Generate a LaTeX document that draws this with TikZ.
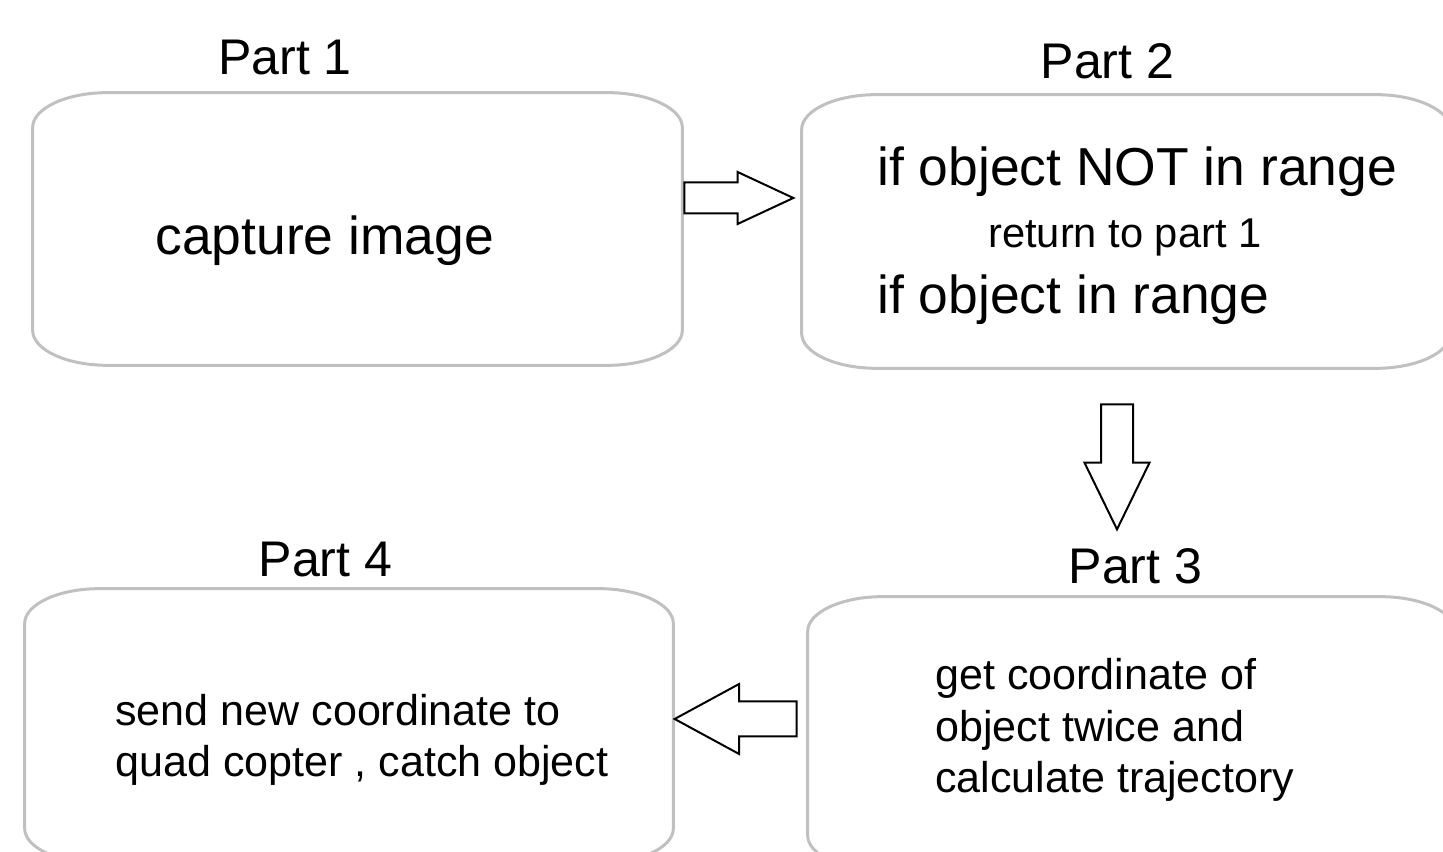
\documentclass[tikz,border=0pt]{standalone}
\usepackage{fontspec}
\setmainfont{Liberation Sans}
\usepackage{tikz}
\usetikzlibrary{calc}
\usetikzlibrary{shapes.arrows}
\definecolor{panelgray}{RGB}{192,192,192}
\tikzset{
panel/.style = { rectangle, draw = none, inner sep = 0pt },
panel line/.style = { draw = panelgray, line width = 0.06cm },
part label/.style = { anchor = base, inner sep = 0pt, font = \fontsize{28.5}{34}\selectfont },
big text/.style = { anchor = base west, inner sep = 0pt, font = \fontsize{30.4}{36}\selectfont },
small text/.style = { anchor = base west, inner sep = 0pt, align = left, font = \fontsize{24.5}{29.5}\selectfont },
block arrow/.style = { single arrow, draw = black, fill = white, line width = 0.04cm, inner xsep = 0pt, anchor = tail },
}
% outline of a panel node, wide flat corners
\newcommand{\panelframe}[1]{%
    \path[panel line] ($(#1.north west)+(1.5,0)$) -- ($(#1.north east)+(-1.5,0)$)
        arc[start angle = 90, end angle = 0, x radius = 1.5, y radius = 0.7]
        -- ($(#1.south east)+(0,0.7)$)
        arc[start angle = 0, end angle = -90, x radius = 1.5, y radius = 0.7]
        -- ($(#1.south west)+(1.5,0)$)
        arc[start angle = 270, end angle = 180, x radius = 1.5, y radius = 0.7]
        -- ($(#1.north west)+(0,-0.7)$)
        arc[start angle = 180, end angle = 90, x radius = 1.5, y radius = 0.7] -- cycle;%
}

\begin{document}
\begin{tikzpicture}
    \useasboundingbox (0, 0) rectangle (28.86, 17.04);
    \clip (0, 0) rectangle (28.86, 17.04);
    \node[panel, minimum width = 12.98cm, minimum height = 5.44cm] (part1) at (7.15, 12.46) {};
    \node[panel, minimum width = 12.96cm, minimum height = 5.46cm] (part2) at (22.52, 12.41) {};
    \node[panel, minimum width = 12.94cm, minimum height = 5.46cm] (part3) at (22.63, 2.37) {};
    \node[panel, minimum width = 12.96cm, minimum height = 5.48cm] (part4) at (6.98, 2.52) {};
    \panelframe{part1}
    \panelframe{part2}
    \panelframe{part3}
    \panelframe{part4}
    \node[part label] (title1) at (5.70, 15.54) {Part 1};
    \node[part label] (title2) at (22.15, 15.46) {Part 2};
    \node[part label] (title3) at (22.71, 5.36) {Part 3};
    \node[part label] (title4) at (6.51, 5.50) {Part 4};
    \node[big text] (capture) at (3.10, 11.94) {capture image};
    \node[big text] (notinrange) at (17.54, 13.32) {if object NOT in range};
    \node[big text, font = \fontsize{23.7}{28}\selectfont] (goback) at (19.76, 12.08) {return to part 1};
    \node[big text] (inrange) at (17.54, 10.76) {if object in range};
    \node[small text] (trajectory) at (18.70, 1.18) {get coordinate of\\object twice and\\calculate trajectory};
    \node[small text] (catch) at (2.30, 1.50) {send new coordinate to\\quad copter , catch object};
    \node[block arrow, minimum height = 2.18cm, inner ysep = 0.29cm, single arrow head extend = 0.21cm, single arrow tip angle = 50] (step12) at ($(part1.east)+(0.02, 0.62)$) {};
    \node[block arrow, rotate = 270, minimum height = 2.5cm, inner ysep = 0.3cm, single arrow head extend = 0.33cm, single arrow tip angle = 52] (step23) at ($(part2.south)+(-0.18, -0.7)$) {};
    \node[block arrow, rotate = 180, minimum height = 2.44cm, inner ysep = 0.33cm, single arrow head extend = 0.35cm, single arrow tip angle = 57] (step34) at ($(part3.west)+(-0.2, 0.29)$) {};
\end{tikzpicture}
\end{document}
